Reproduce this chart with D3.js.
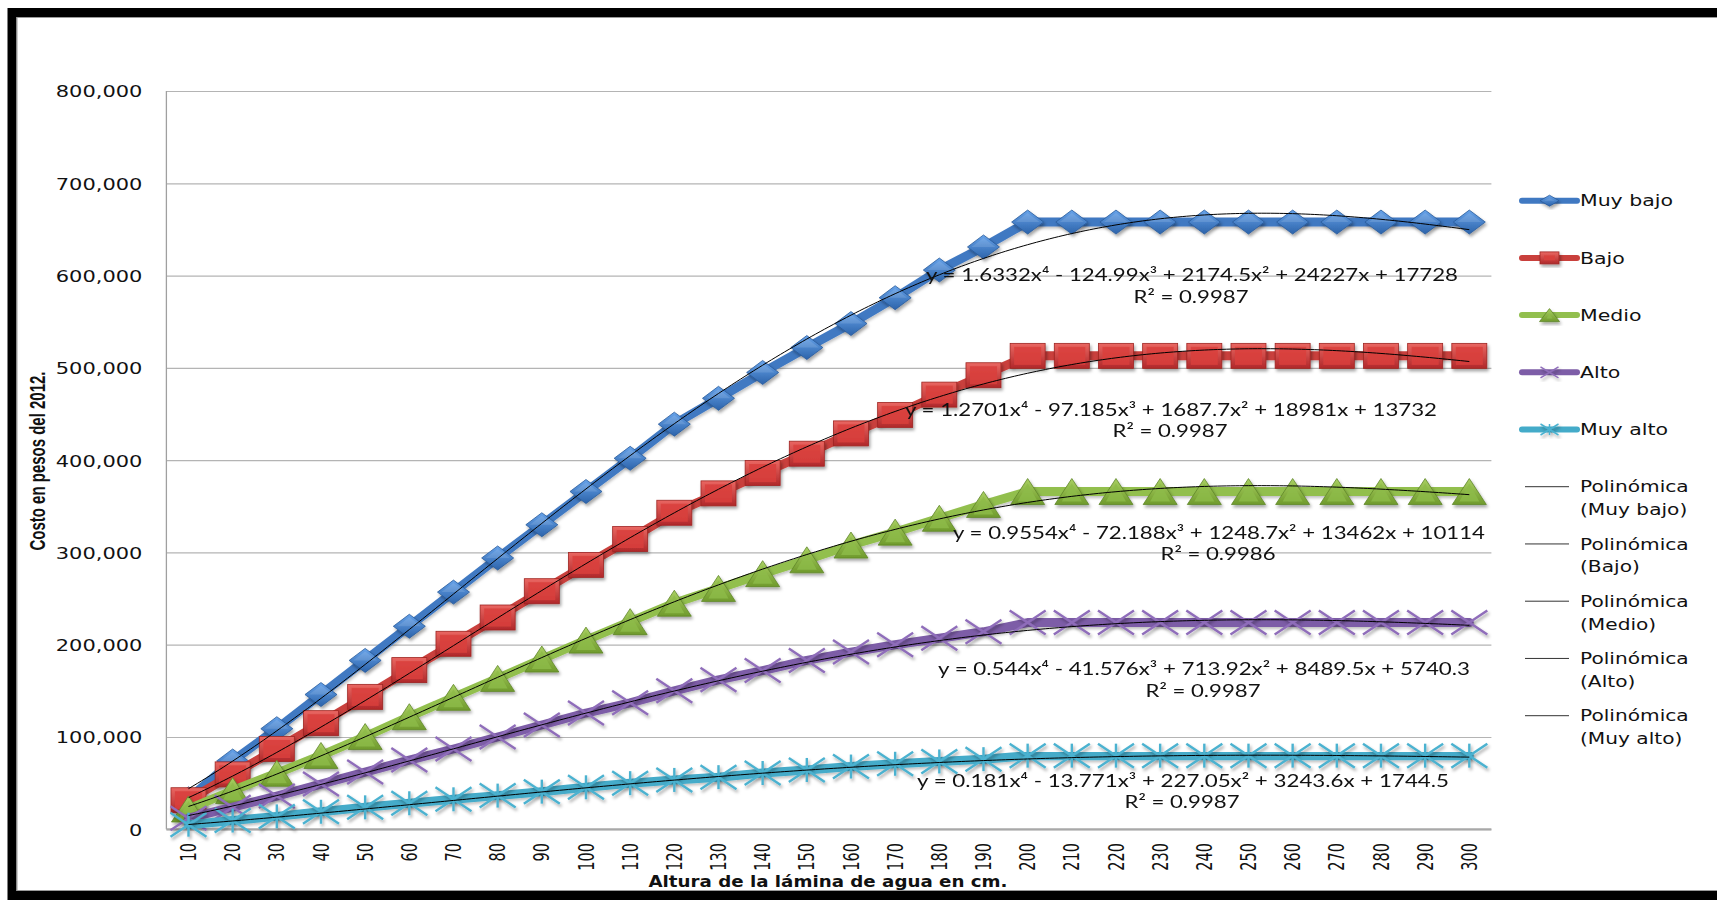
<!DOCTYPE html>
<html><head><meta charset="utf-8">
<script src="https://cdn.jsdelivr.net/npm/d3@7"></script>
<style>html,body{margin:0;padding:0;background:#fff;overflow:hidden}</style>
</head><body><svg id="chart" width="1717" height="900"></svg>
<script>
// ---------------- DATA ----------------
const categories = ["10","20","30","40","50","60","70","80","90","100","110","120","130","140","150","160","170","180","190","200","210","220","230","240","250","260","270","280","290","300"];
const seriesNames = ["Muy bajo","Bajo","Medio","Alto","Muy alto"];
const muyBajo = [33000,74000,109000,146000,183000,220000,257000,294000,330000,366000,402000,439000,467000,495000,522000,548000,576000,606000,631000,658000,658000,658000,658000,658000,658000,658000,658000,658000,658000,658000];
const bajo    = [31500,59500,87000,115000,143500,172500,201000,229500,258000,286500,314500,343000,364000,386000,407000,429000,449000,471000,492000,513000,513000,513000,513000,513000,513000,513000,513000,513000,513000,513000];
const medio   = [22000,42000,60700,80000,100500,122000,143000,163500,184500,205000,225000,245000,261000,277000,292000,308000,322000,337000,352000,366000,366000,366000,366000,366000,366000,366000,366000,366000,366000,366000];
const alto    = [12000,24000,36000,49000,62000,75000,87000,100000,113000,126000,137000,150000,162000,172000,183000,192000,200000,207000,214000,224000,224000,224000,224000,224000,224000,224000,224000,224000,224000,224000];
const muyAlto = [5000,9500,14000,19000,23800,28200,32500,36500,40800,45500,50000,53500,56500,61000,64300,68000,71000,73500,76000,79800,79800,79800,79800,79800,79800,79800,79800,79800,79800,79800];
// polynomial trendline coefficients (x^4, x^3, x^2, x, 1) as printed on the chart
const coefMuyBajo = [1.6332, -124.99, 2174.5, 24227, 17728];
const coefBajo    = [1.2701, -97.185, 1687.7, 18981, 13732];
const coefMedio   = [0.9554, -72.188, 1248.7, 13462, 10114];
const coefAlto    = [0.544, -41.576, 713.92, 8489.5, 5740.3];
const coefMuyAlto = [0.181, -13.771, 227.05, 3243.6, 1744.5];
const equationLabels = [
  "y = 1.6332x\u2074 - 124.99x\u00b3 + 2174.5x\u00b2 + 24227x + 17728",
  "y = 1.2701x\u2074 - 97.185x\u00b3 + 1687.7x\u00b2 + 18981x + 13732",
  "y = 0.9554x\u2074 - 72.188x\u00b3 + 1248.7x\u00b2 + 13462x + 10114",
  "y = 0.544x\u2074 - 41.576x\u00b3 + 713.92x\u00b2 + 8489.5x + 5740.3",
  "y = 0.181x\u2074 - 13.771x\u00b3 + 227.05x\u00b2 + 3243.6x + 1744.5"];
const r2Labels = ["R\u00b2 = 0.9987","R\u00b2 = 0.9987","R\u00b2 = 0.9986","R\u00b2 = 0.9987","R\u00b2 = 0.9987"];
const trendLegendLabels = ["Muy bajo","Bajo","Medio","Alto","Muy alto"];
const yTicks = [0,100000,200000,300000,400000,500000,600000,700000,800000];
const xTitle = "Altura de la l\u00e1mina de agua en cm.";
const yTitle = "Costo en pesos del 2012.";

// ---------------- LAYOUT ----------------
const L = 166.4, R = 1491.4, T = 91, B = 829.3;
const svg = d3.select("#chart");
const defs = svg.append("defs");

const styles = [
  {line:"#4079C2", top:"#67A3EA", bot:"#2C63AA", edge:"#285A9A", shape:"diamond"},
  {line:"#C9403C", top:"#EA6762", bot:"#B0282A", edge:"#9E2522", shape:"square"},
  {line:"#92BF4E", top:"#A9D062", bot:"#6F9A2C", edge:"#60862A", shape:"triangle"},
  {line:"#7D5DA7", top:"#8F6DBA", bot:"#8F6DBA", edge:"#8F6DBA", shape:"x"},
  {line:"#44ABC9", top:"#4BB2D0", bot:"#4BB2D0", edge:"#4BB2D0", shape:"star"}
];
styles.forEach((s,i)=>{
  const g = defs.append("linearGradient").attr("id","grad"+i).attr("x1",0).attr("y1",0).attr("x2",0).attr("y2",1);
  g.append("stop").attr("offset","0%").attr("stop-color",s.top);
  g.append("stop").attr("offset","100%").attr("stop-color",s.bot);
});
const f = defs.append("filter").attr("id","shadow").attr("x","-30%").attr("y","-30%").attr("width","160%").attr("height","160%");
f.append("feDropShadow").attr("dx",1.5).attr("dy",2.5).attr("stdDeviation",1.6).attr("flood-color","#000").attr("flood-opacity",0.35);
const fl = defs.append("filter").attr("id","lshadow").attr("x","-5%").attr("y","-5%").attr("width","110%").attr("height","110%");
fl.append("feDropShadow").attr("dx",1).attr("dy",2).attr("stdDeviation",1.5).attr("flood-color","#000").attr("flood-opacity",0.25);
defs.append("clipPath").attr("id","plotclip").append("rect").attr("x",L).attr("y",T-20).attr("width",R-L).attr("height",B-T+30);

// outer frame
svg.append("rect").attr("x",12).attr("y",12.5).attr("width",1760).attr("height",883).attr("fill","none").attr("stroke","#000").attr("stroke-width",9);
svg.append("rect").attr("x",17).attr("y",17.5).attr("width",1760).attr("height",873).attr("fill","none").attr("stroke","#9a9a9a").attr("stroke-width",1);

// scales
const x = d3.scaleBand().domain(categories).range([L,R]).paddingInner(0).paddingOuter(0);
const bw = x.bandwidth();
const cx = c => x(c) + bw/2;
const y = d3.scaleLinear().domain([0,800000]).range([B,T]);
const tx = d3.scaleLinear().domain([1,categories.length]).range([cx(categories[0]), cx(categories[categories.length-1])]);

// gridlines + y labels
const yAxis = svg.append("g").attr("transform",`translate(${L},0)`)
  .call(d3.axisLeft(y).tickValues(yTicks).tickSize(-(R-L)).tickFormat(d3.format(",")));
yAxis.select(".domain").remove();
yAxis.selectAll(".tick line").attr("stroke","#b4b4b4").attr("stroke-width",1.2);
yAxis.selectAll(".tick text")
  .attr("x",null).attr("dy","0.36em")
  .attr("transform",`translate(${142.4-L},0) scale(1.27,1)`)
  .attr("text-anchor","end")
  .style("font-family","'DejaVu Sans', Verdana, sans-serif").style("font-size","16.5px").attr("fill","#111");
svg.append("line").attr("x1",L).attr("x2",L).attr("y1",T).attr("y2",B).attr("stroke","#a0a0a0").attr("stroke-width",1.3);
svg.append("line").attr("x1",L).attr("x2",R).attr("y1",B).attr("y2",B).attr("stroke","#a8a8a8").attr("stroke-width",2);

// x axis labels
const xAxis = svg.append("g").attr("transform",`translate(0,${B})`).call(d3.axisBottom(x).tickSize(0));
xAxis.select(".domain").remove();
xAxis.selectAll(".tick text")
  .attr("y",null).attr("x",0).attr("dy","0.36em")
  .attr("transform",`translate(0,${843-B}) scale(1.45,1) rotate(-90)`)
  .attr("text-anchor","end")
  .style("font-family","'DejaVu Sans', Verdana, sans-serif").style("font-size","14.5px").attr("fill","#111");

// axis titles
svg.append("text").text(xTitle).attr("x",828).attr("y",887).attr("text-anchor","middle")
  .attr("textLength",359).attr("lengthAdjust","spacingAndGlyphs")
  .style("font-family","'DejaVu Sans', Verdana, sans-serif").style("font-weight","bold").style("font-size","15.5px").attr("fill","#111");
svg.append("text").text(yTitle).attr("transform","translate(37,461) scale(1.25,1) rotate(-90)").attr("text-anchor","middle").attr("dy","0.36em")
  .attr("textLength",179).attr("lengthAdjust","spacingAndGlyphs")
  .style("font-family","'Liberation Sans Narrow','Liberation Sans',Arial,sans-serif").style("font-weight","bold").style("font-size","17px").attr("fill","#111");

// marker drawing
function drawMarker(g, shape, i, w, h){
  if(shape==="diamond"){
    g.append("path").attr("d",`M0,${-h/2}L${w/2},0L0,${h/2}L${-w/2},0Z`).attr("fill",`url(#grad${i})`).attr("stroke",styles[i].edge).attr("stroke-width",0.8);
    g.append("path").attr("d",`M0,${-h/2+3}L${w/2-4},0L${-w/2+4},0Z`).attr("fill","#ffffff").attr("opacity",0.12);
  } else if(shape==="square"){
    g.append("rect").attr("x",-w/2).attr("y",-h/2).attr("width",w).attr("height",h).attr("fill",`url(#grad${i})`).attr("stroke",styles[i].edge).attr("stroke-width",0.8);
    g.append("rect").attr("x",-w/2+4).attr("y",-h/2+3.5).attr("width",w-8).attr("height",h-7).attr("fill","#D9403C").attr("opacity",0.85);
  } else if(shape==="triangle"){
    g.append("path").attr("d",`M0,${-h/2}L${w/2},${h/2}L${-w/2},${h/2}Z`).attr("fill",`url(#grad${i})`).attr("stroke",styles[i].edge).attr("stroke-width",0.8);
    g.append("path").attr("d",`M0,${-h/2+5}L${w/2-7},${h/2-3}L${-w/2+7},${h/2-3}Z`).attr("fill","#8DBB48").attr("opacity",0.8);
  } else {
    const c = styles[i].top, sw = Math.max(1.5, w/15);
    g.append("line").attr("x1",-w/2).attr("y1",-h/2).attr("x2",w/2).attr("y2",h/2).attr("stroke",c).attr("stroke-width",sw);
    g.append("line").attr("x1",-w/2).attr("y1",h/2).attr("x2",w/2).attr("y2",-h/2).attr("stroke",c).attr("stroke-width",sw);
    if(shape==="star") g.append("line").attr("x1",0).attr("y1",-h/2).attr("x2",0).attr("y2",h/2).attr("stroke",c).attr("stroke-width",sw);
  }
}

const allSeries = [muyBajo, bajo, medio, alto, muyAlto];
const markerSize = [[32,24],[35,25],[34,26],[36,24],[36,24]];
const lineGen = d3.line().x((d,j)=>cx(categories[j])).y(d=>y(d));

allSeries.forEach((vals,i)=>{
  const s = styles[i];
  svg.append("path").datum(vals).attr("d",lineGen).attr("fill","none").attr("stroke",s.line)
    .attr("stroke-width",9).attr("stroke-linejoin","round").attr("stroke-linecap","round").attr("filter","url(#lshadow)");
  const mg = svg.append("g").attr("filter","url(#shadow)");
  vals.forEach((v,j)=>{
    const g = mg.append("g").attr("transform",`translate(${cx(categories[j])},${y(v)})`);
    drawMarker(g, s.shape, i, markerSize[i][0], markerSize[i][1]);
  });
});

// trendlines
const coefs = [coefMuyBajo, coefBajo, coefMedio, coefAlto, coefMuyAlto];
const poly = (c,t) => (((c[0]*t + c[1])*t + c[2])*t + c[3])*t + c[4];
const tSteps = d3.range(1, categories.length + 0.0001, 0.1);
const trendGen = d3.line().x(t=>tx(t));
coefs.forEach(c=>{
  svg.append("path").datum(tSteps).attr("d", trendGen.y(t=>y(poly(c,t)))).attr("fill","none")
    .attr("stroke","#000").attr("stroke-width",1).attr("clip-path","url(#plotclip)");
});

// equation labels
const eqPos = [[1192,275,297],[1171,410,431],[1219,533,554],[1204,669,691],[1183,781,802]];
const eqFont = "Lato,'Noto Sans','Liberation Sans',sans-serif";
equationLabels.forEach((lab,i)=>{
  svg.append("text").text(lab).attr("x",eqPos[i][0]).attr("y",eqPos[i][1]).attr("dy","0.36em").attr("text-anchor","middle")
    .attr("textLength",532).attr("lengthAdjust","spacingAndGlyphs")
    .style("font-family",eqFont).style("font-size","17.5px").attr("fill","#111");
  svg.append("text").text(r2Labels[i]).attr("x",eqPos[i][0]-1).attr("y",eqPos[i][2]).attr("dy","0.36em").attr("text-anchor","middle")
    .attr("textLength",115).attr("lengthAdjust","spacingAndGlyphs")
    .style("font-family",eqFont).style("font-size","17.5px").attr("fill","#111");
});

// legend
const legFont = "'DejaVu Sans', Verdana, sans-serif";
const legendSmall = [[19,11],[19,12],[20,13],[18,11],[18,11]];
seriesNames.forEach((name,i)=>{
  const yy = 200.7 + i*57.2;
  svg.append("line").attr("x1",1522).attr("x2",1577).attr("y1",yy).attr("y2",yy).attr("stroke",styles[i].line)
    .attr("stroke-width",6).attr("stroke-linecap","round");
  const g = svg.append("g").attr("transform",`translate(1549.5,${yy})`).attr("filter","url(#shadow)");
  drawMarker(g, styles[i].shape, i, legendSmall[i][0], legendSmall[i][1]);
  svg.append("text").text(name).attr("transform",`translate(1580,${yy}) scale(1.28,1)`).attr("dy","0.36em")
    .style("font-family",legFont).style("font-size","16px").attr("fill","#111");
});
trendLegendLabels.forEach((name,i)=>{
  const yy = 486.7 + i*57.25;
  svg.append("line").attr("x1",1525).attr("x2",1569).attr("y1",yy).attr("y2",yy).attr("stroke","#333").attr("stroke-width",1);
  svg.append("text").text("Polin\u00f3mica").attr("transform",`translate(1580,${yy}) scale(1.26,1)`).attr("dy","0.36em")
    .style("font-family",legFont).style("font-size","16px").attr("fill","#111");
  svg.append("text").text("("+name+")").attr("transform",`translate(1580,${yy+22.7}) scale(1.26,1)`).attr("dy","0.36em")
    .style("font-family",legFont).style("font-size","16px").attr("fill","#111");
});
</script></body></html>
